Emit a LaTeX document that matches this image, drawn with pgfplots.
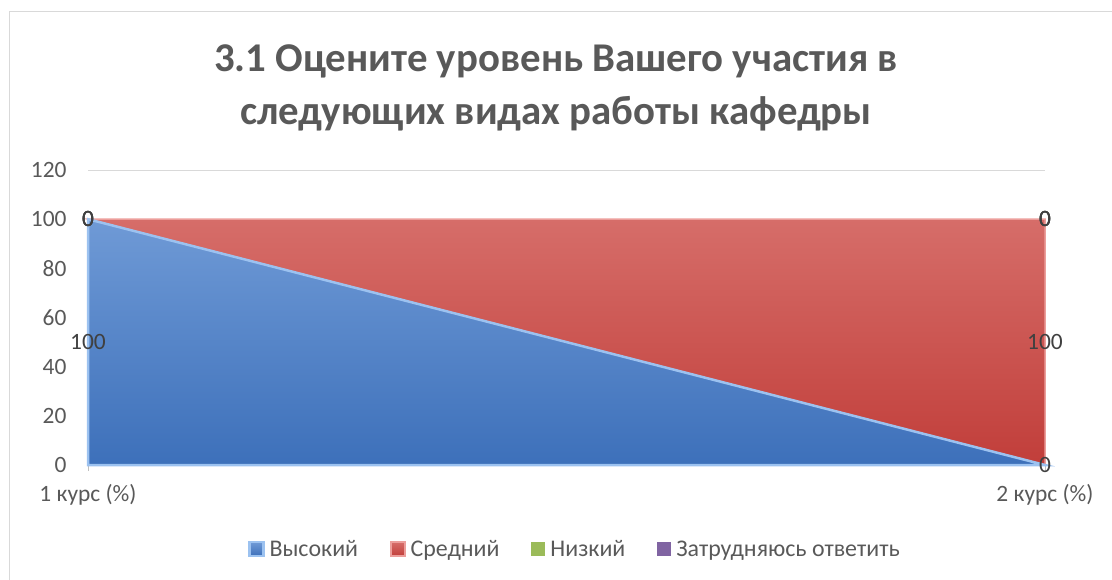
\documentclass[border=0pt]{standalone}
\usepackage{pgfplots}
\pgfplotsset{compat=1.18}
\usepackage{fontspec}
\setmainfont{Carlito}
\definecolor{txt}{HTML}{595959}
\definecolor{lbl}{HTML}{404040}
\definecolor{gridc}{HTML}{D9D9D9}
\definecolor{axc}{HTML}{BFBFBF}
\definecolor{blueT}{HTML}{6F9AD6}
\definecolor{blueB}{HTML}{3D70BA}
\definecolor{blueE}{HTML}{9CC2F0}
\definecolor{redT}{HTML}{D66D69}
\definecolor{redB}{HTML}{C13E3A}
\definecolor{redE}{HTML}{EC9E9B}
\definecolor{greenC}{HTML}{9BBB59}
\definecolor{purpC}{HTML}{8064A2}
\begin{document}
\begin{tikzpicture}[x=1bp,y=1bp]
\useasboundingbox (0,0) rectangle (1112,-580);
\draw[gridc, line width=1.5bp] (9.5,-600) -- (9.5,-11.5) -- (1130,-11.5);
\node[anchor=base, text=txt, font=\bfseries\fontsize{41}{50}\selectfont] at (556,-72) {3.1 Оцените уровень Вашего участия в};
\node[anchor=base, text=txt, font=\bfseries\fontsize{41}{50}\selectfont] at (556,-125) {следующих видах работы кафедры};
\begin{axis}[
  at={(88bp,-465bp)}, anchor=south west,
  scale only axis, width=957bp, height=295bp,
  xmin=0, xmax=1, ymin=0, ymax=120,
  stack plots=y,
  axis x line=bottom, axis y line=left,
  x axis line style={draw=axc, line width=1bp, -},
  y axis line style={draw=none},
  xtick={0,1}, xticklabels={1 курс (\%), 2 курс (\%)},
  ytick={0,20,...,120},
  xtick style={draw=axc, line width=1bp},
  ytick style={draw=none},
  tick align=outside, major tick length=6bp,
  ymajorgrids, grid style={gridc, line width=1bp},
  ticklabel style={text=txt, font=\fontsize{23.5}{28}\selectfont},
  /pgf/number format/assume math mode=true,
  yticklabel style={xshift=-12bp},
  xticklabel style={yshift=-10bp},
  legend style={at={(0.167,-0.285)}, anchor=west, draw=none, fill=none,
    legend columns=4, font=\fontsize{24}{28}\selectfont, text=txt,
    nodes={inner sep=0pt},
    /tikz/every odd column/.append style={column sep=5bp},
    /tikz/every even column/.append style={column sep=32bp},
    inner sep=0pt},
  legend image code/.code={\fill[#1] (0bp,-7bp) rectangle (14bp,7bp);},
  clip=false,
]
\addplot[draw=blueE, line width=2.5bp, top color=blueT, bottom color=blueB] coordinates {(0,100) (1,0)} \closedcycle;
\addplot[draw=redE, line width=1.5bp, top color=redT, bottom color=redB] coordinates {(0,0) (1,100)} \closedcycle;
\addplot[draw=none, fill=greenC] coordinates {(0,0) (1,0)} \closedcycle;
\addplot[draw=none, fill=purpC] coordinates {(0,0) (1,0)} \closedcycle;
\legend{Высокий, Средний, Низкий, Затрудняюсь ответить}
\coordinate (L1) at (axis cs:0,50);
\coordinate (L2) at (axis cs:1,50);
\coordinate (T1) at (axis cs:0,100);
\coordinate (T2) at (axis cs:1,100);
\coordinate (B2) at (axis cs:1,0);
\end{axis}
\tikzset{dl/.style={text=lbl, font=\fontsize{23.5}{28}\selectfont}}
\node[dl] at (L1) {100};
\node[dl] at (L2) {100};
\foreach \k in {1,2,3}{
\node[dl] at (T1) {0};
\node[dl] at (T2) {0};
}
\node[dl] at (B2) {0};
\end{tikzpicture}
\end{document}
